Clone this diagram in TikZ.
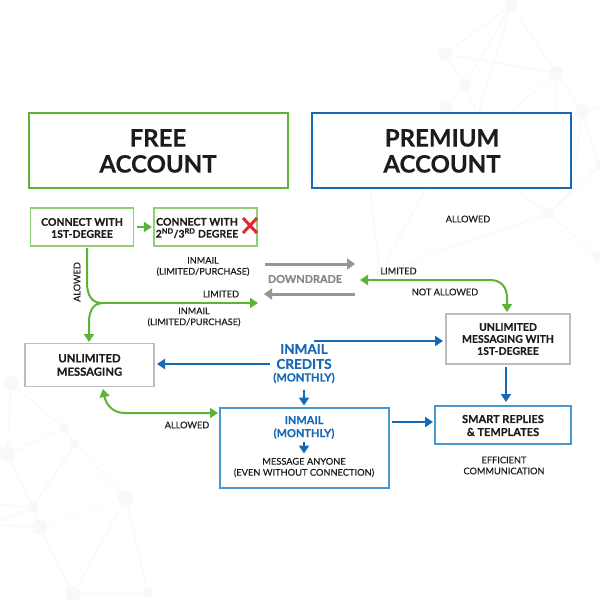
\documentclass[tikz,border=0pt]{standalone}
\usepackage{fontspec}
\setmainfont[BoldFeatures={FakeBold=0.35}]{Lato}
\newfontfamily\medf[FakeBold=0.25]{Lato}
\usetikzlibrary{arrows.meta}
\definecolor{gn}{HTML}{5DB336}
\definecolor{gnl}{HTML}{8FCF78}
\definecolor{bl}{HTML}{1769B8}
\definecolor{bll}{HTML}{4A97CF}
\definecolor{gy}{HTML}{969696}
\definecolor{gyb}{HTML}{BDBDBD}
\definecolor{tx}{HTML}{1C1C1C}
\definecolor{bgl}{HTML}{F7F8F8}
\definecolor{xr}{HTML}{E5282C}
\tikzset{
 x=1pt,y=-1pt,
 lbl/.style={font=\fontsize{10.5}{12}\selectfont\bfseries,text=tx,align=center,inner sep=0pt},
 tiny/.style={font=\fontsize{9.2}{11}\selectfont\medf,text=tx,align=center,inner sep=0pt},
 title/.style={font=\fontsize{24}{26}\selectfont\bfseries,text=tx,align=center,inner sep=0pt},
 boxt/.style={font=\fontsize{11.3}{13.4}\selectfont\bfseries,text=tx,align=center,inner sep=0pt},
 blt/.style={font=\fontsize{11}{13}\selectfont\bfseries,text=bl,align=center,inner sep=0pt},
 box/.style={draw,inner sep=0pt,fill=white,rectangle},
 gar/.style={draw=gn,line width=2pt,-{Triangle[length=8pt,width=10pt]}},
 gdbl/.style={draw=gn,line width=2pt,{Triangle[length=8pt,width=10pt]}-{Triangle[length=8pt,width=10pt]}},
 bar/.style={draw=bl,line width=2pt,-{Triangle[length=8pt,width=10pt]}},
 yar/.style={draw=gy,line width=3pt,-{Triangle[length=8pt,width=11pt]}},
 bgline/.style={draw=bgl,line width=1pt},
 bgdot/.style={fill=bgl,draw=none,circle,inner sep=0pt},
}
\begin{document}
\begin{tikzpicture}
\useasboundingbox (0,0) rectangle (600,600);
\fill[white] (0,0) rectangle (600,600);
% background, top right
\coordinate (A) at (511,5);\coordinate (B) at (445,54);\coordinate (C) at (556,73);\coordinate (D) at (465,85);\coordinate (E) at (446,107);\coordinate (F) at (582,111);\coordinate (G) at (549,213);\coordinate (H) at (380,273);\coordinate (I) at (598,257);\coordinate (J) at (600,165);
\coordinate (k1) at (478,115);\coordinate (k2) at (507,115);\coordinate (k3) at (555,115);\coordinate (k4) at (600,108);\coordinate (k5) at (515,190);\coordinate (k6) at (370,190);\coordinate (k7) at (425,190);\coordinate (k8) at (572,190);
\foreach \a/\b in {A/B,A/C,A/D,A/k1,B/C,B/D,D/k1,D/E,C/k2,C/F,C/k3,F/k4,F/J,F/k8,G/k5,G/J,G/I,G/H,H/k6,H/k7,G/k8}{\draw[bgline] (\a)--(\b);}
\foreach \c/\s in {A/13,B/14,C/14,D/12,E/13,F/14,G/11,H/8,I/10,J/8}{\node[bgdot,minimum size=\s pt] at (\c) {};}
% background, bottom left
\coordinate (a) at (11,383);\coordinate (b) at (64,428);\coordinate (c) at (75,444);\coordinate (d) at (7,454);\coordinate (e) at (33,507);\coordinate (f) at (39,527);\coordinate (g) at (126,498);\coordinate (h) at (73,594);\coordinate (i) at (148,593);
\coordinate (m1) at (0,504);\coordinate (m2) at (0,520);\coordinate (m3) at (0,525);
\foreach \p/\q in {a/b,a/d,b/d,b/c,c/e,c/g,d/e,e/f,e/m1,e/m2,f/m3,f/g,f/h,g/h,g/i,h/i}{\draw[bgline] (\p)--(\q);}
\foreach \c/\s in {a/14,b/9,c/9,d/16,e/11,f/15,g/15,h/15,i/10}{\node[bgdot,minimum size=\s pt] at (\c) {};}
% titles
\node[box,draw=gn,line width=2pt,minimum width=259pt,minimum height=75pt] (free) at (158,150) {};
\node[title] (freet) at (158,151) {FREE\\ACCOUNT};
\node[box,draw=bl,line width=2pt,minimum width=259pt,minimum height=75pt] (prem) at (441,150) {};
\node[title] (premt) at (442,151) {PREMIUM\\ACCOUNT};
% boxes
\node[box,draw=gnl,line width=1.3pt,minimum width=103pt,minimum height=38pt] (c1) at (82,227) {};
\node[lbl] (c1t) at (82,228) {CONNECT WITH\\1ST-DEGREE};
\node[box,draw=gnl,line width=1.3pt,minimum width=103pt,minimum height=38pt] (c2) at (205.5,227) {};
\node[lbl] (c2t) at (197,228) {CONNECT WITH\\2\textsuperscript{ND}/3\textsuperscript{RD} DEGREE};
\draw[xr,line width=3pt] (243,218)--(257,233) (257,218)--(243,233);
\node[box,draw=gyb,line width=1.3pt,minimum width=129pt,minimum height=43pt] (um) at (89.5,365) {};
\node[boxt] (umt) at (89.5,365) {UNLIMITED\\MESSAGING};
\node[box,draw=gyb,line width=1.3pt,minimum width=124pt,minimum height=50pt] (um1) at (508,339) {};
\node[lbl] (um1t) at (508,339) {UNLIMITED\\MESSAGING WITH\\1ST-DEGREE};
\node[box,draw=bll,line width=1.3pt,minimum width=169pt,minimum height=80pt] (im) at (304.5,448) {};
\node[box,draw=bll,line width=1.3pt,minimum width=136pt,minimum height=38pt] (sr) at (503,425) {};
\node[lbl,font=\fontsize{11}{13}\selectfont\bfseries] (srt) at (503,425.5) {SMART REPLIES\\\& TEMPLATES};
% texts
\node[blt] (imt) at (304,427.5) {INMAIL\\(MONTHLY)};
\node[tiny,font=\fontsize{9.3}{11}\selectfont\medf] (msg) at (304,467.5) {MESSAGE ANYONE\\(EVEN WITHOUT CONNECTION)};
\node[blt,font=\fontsize{13.5}{15}\selectfont\bfseries] (cr) at (304,356.5) {INMAIL\\CREDITS};
\node[blt,font=\fontsize{11.1}{12}\selectfont\bfseries] (crm) at (304,378) {(MONTHLY)};
\node[tiny] (l1) at (203,266.5) {INMAIL\\(LIMITED/PURCHASE)};
\node[tiny] (l2) at (194,317) {INMAIL\\(LIMITED/PURCHASE)};
\node[tiny] (l3) at (221,294) {LIMITED};
\node[tiny] (l4) at (398.5,271) {LIMITED};
\node[tiny] (l5) at (445,292) {NOT ALLOWED};
\node[tiny] (l6) at (468,219) {ALLOWED};
\node[tiny] (l7) at (187,425) {ALLOWED};
\node[tiny,rotate=90] (l8) at (77,282) {ALOWED};
\node[tiny] (l9) at (504,465.5) {EFFICIENT\\COMMUNICATION};
\node[font=\fontsize{10.9}{12}\selectfont\bfseries,text=gy!90!black,inner sep=0pt] (dg) at (305,279) {DOWNDRADE};
% connectors
\coordinate (c1b) at (87,248);\coordinate (mid) at (102,303);\coordinate (rgt) at (258,303);
\coordinate (umtop) at (89,342);
\coordinate (gr1) at (265,264);\coordinate (gr2) at (355,264);\coordinate (gr3) at (355,294);\coordinate (gr4) at (264,294);
\coordinate (lim) at (360,280);\coordinate (um1top) at (507,312);
\coordinate (crr) at (314,341);\coordinate (um1l) at (443,341);
\coordinate (crl) at (270,364);\coordinate (umr) at (157,364);
\coordinate (crb) at (304,390);\coordinate (imtop) at (304,405.5);
\coordinate (imi) at (304,442);\coordinate (imj) at (304,453.5);
\coordinate (u1) at (103,389);\coordinate (u2) at (218,413);\coordinate (sb) at (506,367);\coordinate (st) at (506,402);
\coordinate (imr) at (392,422);\coordinate (srl) at (433,422);
\draw[gar,shorten <=2.5pt,shorten >=1.5pt] (c1)--(c2);
\draw[gn,line width=2pt] (c1b)--(87,282) .. controls (87,296) and (92,303) .. (mid);
\draw[gar] (mid)--(rgt);
\draw[gar] (mid) .. controls (95,303) and (89,309) .. (89,322) -- (umtop);
\draw[yar] (gr1)--(gr2);
\draw[yar] (gr3)--(gr4);
\draw[gdbl] (lim)--(490,280) .. controls (501,280) and (507,287) .. (507,298) -- (um1top);
\draw[bar] (crr)--(um1l);
\draw[bar] (crl)--(umr);
\draw[bar] (crb)--(imtop);
\draw[bar,line width=1.7pt] (imi)--(imj);
\draw[gdbl] (u1) .. controls (106,404) and (112,413) .. (125,413) -- (u2);
\draw[bar] (sb)--(st);
\draw[bar] (imr)--(srl);
\end{tikzpicture}
\end{document}
